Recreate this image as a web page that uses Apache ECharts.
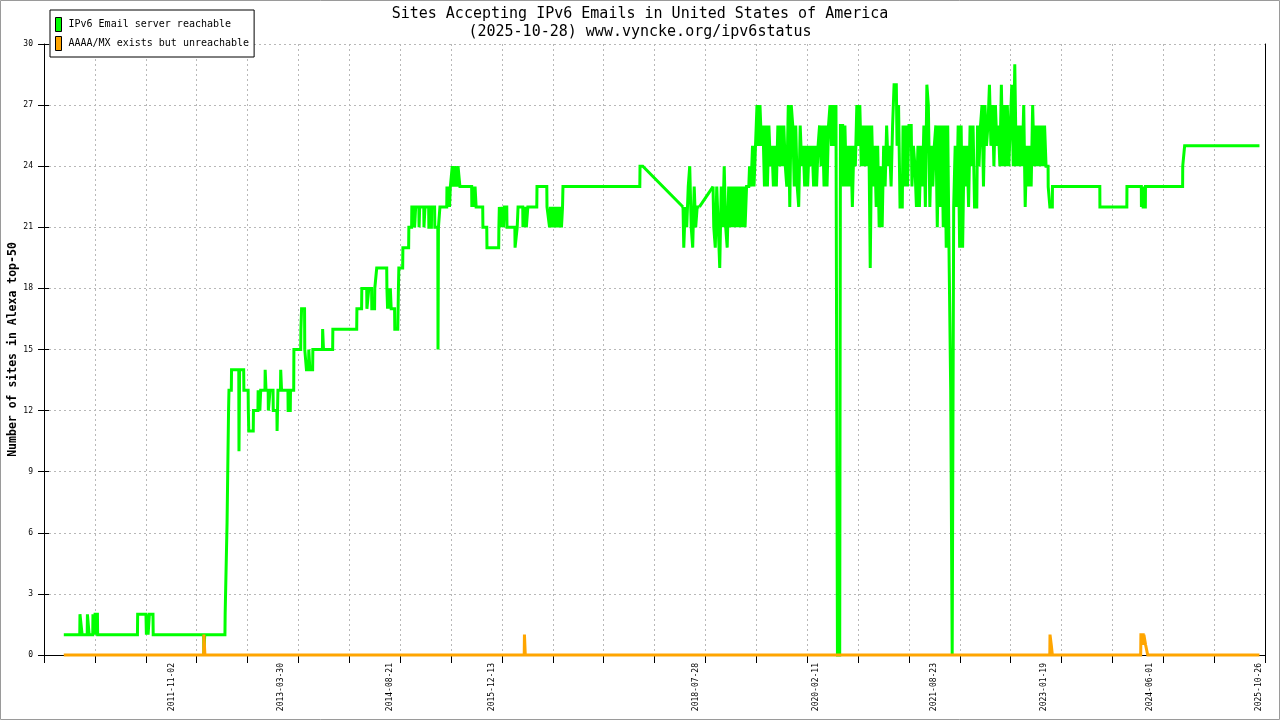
<!DOCTYPE html>
<html>
<head>
<meta charset="utf-8">
<script src="https://cdn.jsdelivr.net/npm/echarts@6/dist/echarts.min.js"></script>
<style>
html,body{margin:0;padding:0;background:#fff;}
#chart{width:1280px;height:720px;}
</style>
</head>
<body>
<div id="chart"></div>
<script>
// ---------------- DATA ----------------
const titleLines = ['Sites Accepting IPv6 Emails in United States of America', '(2025-10-28) www.vyncke.org/ipv6status'];
const seriesNames = ['IPv6 Email server reachable', 'AAAA/MX exists but unreachable'];
const yAxisName = 'Number of sites in Alexa top-50';
const xLabelDates = ['2011-11-02','2013-03-30','2014-08-21','2015-12-13','2018-07-28','2020-02-11','2021-08-23','2023-01-19','2024-06-01','2025-10-26'];
const xRange = ['2010-03-11', '2025-11-23'];
const xGridDivisions = 24;
const yMin = 0, yMax = 30, yStep = 3;

// reachable: early period, [date, value]
const reachableEarly = [
['2010-06-12',1],['2010-08-26',1],['2010-08-27',2],['2010-09-05',2],['2010-09-06',1],
['2010-09-30',1],['2010-10-01',2],['2010-10-08',2],['2010-10-09',1],
['2010-10-26',1],['2010-10-27',2],['2010-11-03',2],['2010-11-04',1],['2010-11-06',2],['2010-11-17',2],['2010-11-18',1],
['2011-05-24',1],['2011-05-25',2],['2011-07-03',2],['2011-07-05',1],['2011-07-09',2],['2011-07-13',1],['2011-07-17',1],['2011-07-19',2],['2011-08-05',2],['2011-08-06',1],
['2012-03-30',1],['2012-03-31',0],['2012-04-03',0],['2012-04-04',1],
['2012-07-08',1],['2012-07-09',2],['2012-07-17',2],['2012-07-18',6.5],['2012-07-24',6.5],['2012-07-25',12],['2012-07-27',13],['2012-08-07',13],['2012-08-08',14],
['2012-09-11',14],['2012-09-12',10],['2012-09-15',14],['2012-10-04',14],['2012-10-05',13],['2012-10-25',13],['2012-10-26',12],['2012-10-28',11],['2012-11-18',11],['2012-11-19',12],['2012-12-10',12],['2012-12-11',13],
['2012-12-18',13],['2012-12-19',12],['2012-12-23',13],['2013-01-12',13],['2013-01-13',14],['2013-01-16',14],['2013-01-17',13],['2013-01-27',13],['2013-01-28',12],['2013-02-04',12],['2013-02-05',13],['2013-02-19',13],['2013-02-20',12],['2013-03-09',12],['2013-03-10',11],['2013-03-13',11],['2013-03-14',13],['2013-03-26',13],['2013-03-27',14],['2013-03-30',14],['2013-03-31',13],['2013-04-30',13],['2013-05-01',12],['2013-05-11',12],['2013-05-12',13],['2013-05-27',13],['2013-05-28',15],
['2013-06-29',15],['2013-06-30',16],['2013-07-03',17],['2013-07-17',17],['2013-07-18',15],['2013-07-25',15],['2013-07-26',14],['2013-08-05',14],['2013-08-06',15],['2013-08-10',15],['2013-08-11',14],['2013-08-24',14],['2013-08-25',15],['2013-10-09',15],['2013-10-10',16],['2013-10-13',16],['2013-10-14',15],['2013-11-26',15],['2013-11-27',16],
['2014-03-19',16],['2014-03-20',17],['2014-04-11',17],['2014-04-12',18],['2014-05-05',18],['2014-05-06',17],['2014-05-14',17],['2014-05-15',18],['2014-05-28',18],['2014-05-29',17],['2014-06-11',17],['2014-06-12',18],['2014-06-20',18],['2014-06-21',19],['2014-08-07',19],['2014-08-08',18],['2014-08-11',17],['2014-08-15',18],['2014-08-19',17],['2014-08-24',18],['2014-08-28',17],['2014-09-13',17],['2014-09-14',16],['2014-09-28',16],['2014-10-01',18],['2014-10-03',19],['2014-10-21',19],['2014-10-22',20],['2014-11-18',20],['2014-11-19',21],['2014-12-02',21],['2014-12-03',22],
['2014-12-15',22],['2014-12-16',21],['2014-12-20',21],['2014-12-21',22],['2015-01-05',22],['2015-01-06',21],['2015-01-09',22],['2015-01-28',22],['2015-01-29',21],['2015-02-03',22],['2015-02-20',22],['2015-02-21',21],['2015-03-05',21],['2015-03-06',22],['2015-03-20',22],['2015-03-21',21],['2015-04-04',21],['2015-04-05',15],['2015-04-07',21],['2015-04-13',21],['2015-04-14',22],
['2015-05-16',22],['2015-05-17',23],['2015-05-21',22],['2015-05-25',23],['2015-05-29',22],['2015-06-02',23],['2015-06-10',23],['2015-06-11',24],['2015-06-16',23],['2015-06-20',24],['2015-06-25',23],['2015-06-29',24],['2015-07-04',23],['2015-07-08',24],['2015-07-16',24],['2015-07-17',23],['2015-09-10',23],['2015-09-11',22],['2015-09-16',23],['2015-09-21',22],['2015-09-26',23],['2015-10-01',22],['2015-11-01',22],['2015-11-02',21],['2015-11-20',21],['2015-11-21',20],
['2016-01-15',20],['2016-01-16',21],['2016-01-18',22],['2016-01-22',21],['2016-01-25',22],['2016-01-29',21],['2016-02-02',22],['2016-02-07',21],['2016-02-11',22],['2016-02-22',22],['2016-02-23',21],['2016-03-31',21],['2016-04-01',20],['2016-04-10',20],['2016-04-11',21],['2016-04-14',21],['2016-04-15',22],['2016-05-07',22],['2016-05-08',21],['2016-05-12',22],['2016-05-16',21],['2016-05-20',22],['2016-05-24',21],['2016-05-31',22],['2016-07-12',22],['2016-07-13',23],['2016-08-28',23],['2016-08-29',22],['2016-09-03',22],['2016-09-10',21],['2016-09-14',22],['2016-09-18',21],['2016-09-23',22],['2016-09-28',21],['2016-10-04',22],['2016-10-10',21],['2016-10-16',22],['2016-10-22',21],['2016-10-30',22],['2016-11-05',21],['2016-11-10',22],['2016-11-12',23],
['2017-11-08',23],['2017-11-09',24],['2017-11-22',24]
];

// reachable: weekly samples, mid-2018
const reachableWeeklyAStart = '2018-05-30';
const reachableWeeklyA = [22,20,22,21,23,24,21,20,23,21,22,22];

// reachable: weekly samples, late 2018 .. early 2023
const reachableWeeklyBStart = '2018-10-18';
const reachableWeeklyB = [
23,21,20,23,21,19,23,21,24,21, 20,23,21,23,21,23,21,23,21,23,
21,23,21,23,23,24,23,25,23,25, 27,25,27,25,26,23,26,23,26,24,
25,23,25,23,26,24,26,24,26,24, 23,27,22,27,26,23,26,23,22,26,
24,25,23,25,23,25,24,25,23,25, 23,25,26,24,26,23,26,23,26,27,
25,27,25,27,0,0,26,26,23,26, 23,25,23,25,22,25,24,27,25,27,
24,26,24,26,24,26,19,26,23,25, 22,25,21,24,21,25,23,26,24,25,
23,26,28,28,25,27,22,22,26,23, 26,23,26,26,23,25,24,22,25,22,
25,23,26,22,28,27,22,25,23,25, 26,21,26,22,26,21,26,20,26,19,
13,0,22,25,22,26,20,26,20,25, 23,25,22,26,24,26,22,22,26,24,
26,27,23,27,25,26,28,25,27,24, 27,25,26,24,28,24,27,24,27,24,
26,28,24,29,24,26,24,26,24,27, 22,25,23,25,23,27,24,26,24,26,
24,26,24,26
];

// reachable: late period, [date, value]
const reachableLate = [
['2023-02-02',24],['2023-02-08',24],['2023-02-09',23],['2023-02-16',23],['2023-02-17',22],['2023-02-28',22],['2023-03-01',23],
['2023-10-09',23],['2023-10-10',22],['2024-02-13',22],['2024-02-14',23],
['2024-04-21',23],['2024-04-22',22],['2024-04-26',22],['2024-04-27',23],['2024-04-29',23],['2024-04-30',22],['2024-05-10',22],['2024-05-11',23],
['2024-11-01',23],['2024-11-02',24],['2024-11-10',24],['2024-11-11',25],['2025-10-28',25]
];

// unreachable, [date, value]
const unreachable = [
['2010-06-12',0],['2012-03-30',0],['2012-03-31',1],['2012-04-04',1],['2012-04-05',0],
['2016-05-14',0],['2016-05-15',1],['2016-05-18',1],['2016-05-19',0],
['2023-02-16',0],['2023-02-17',1],['2023-02-22',1],['2023-02-23',0.5],['2023-02-27',0.5],['2023-02-28',0],
['2024-04-18',0],['2024-04-19',1],['2024-04-30',1],['2024-05-01',0.5],['2024-05-03',1],['2024-05-10',1],['2024-05-11',0.5],['2024-05-20',0.5],['2024-05-21',0],
['2025-10-28',0]
];

// ---------------- BUILD ----------------
function toTs(s, addDays) {
  const p = s.split('-').map(Number);
  return new Date(p[0], p[1] - 1, p[2] + (addDays || 0)).getTime();
}
function pairs(list) { return list.map(d => [toTs(d[0]), d[1]]); }
function weekly(start, vals) { return vals.map((v, i) => [toTs(start, 7 * i), v]); }
function pad(n) { return (n < 10 ? '0' : '') + n; }

const earlyPts = pairs(reachableEarly);
const weeklyAPts = weekly(reachableWeeklyAStart, reachableWeeklyA);
const weeklyBPts = weekly(reachableWeeklyBStart, reachableWeeklyB);
const latePts = pairs(reachableLate);
const orangeData = pairs(unreachable);

const GREEN = '#00ff00', ORANGE = '#ffa500';
const MONO = "'DejaVu Sans Mono', 'Liberation Mono', monospace";

function lineSeries(name, data, color, step, z) {
  return {
    name: name, type: 'line', xAxisIndex: 0, yAxisIndex: 0, data: data,
    step: step || false, symbol: 'none', showSymbol: false, clip: false,
    color: color, itemStyle: { color: color },
    lineStyle: { color: color, width: 3, join: 'miter', miterLimit: 2 },
    z: z
  };
}

const chart = echarts.init(document.getElementById('chart'), null, { renderer: 'canvas' });
chart.setOption({
  animation: false,
  backgroundColor: '#fff',
  textStyle: { fontFamily: MONO },
  title: {
    text: titleLines.join('\n'),
    left: 'center',
    top: 5,
    padding: 0,
    textStyle: { fontFamily: MONO, fontSize: 15, fontWeight: 'normal', color: '#000', lineHeight: 18 }
  },
  legend: {
    data: seriesNames,
    orient: 'vertical',
    left: 50,
    top: 10,
    icon: 'rect',
    itemWidth: 6,
    itemHeight: 14,
    itemGap: 4,
    padding: [7, 5, 6, 5],
    borderColor: '#000',
    borderWidth: 1,
    backgroundColor: '#fff',
    itemStyle: { borderColor: '#000', borderWidth: 1 },
    textStyle: { fontFamily: MONO, fontSize: 10, color: '#000', padding: [0, 0, 0, 2] },
    selectedMode: false
  },
  grid: { left: 44, right: 15, top: 44, bottom: 65, outerBoundsMode: 'none', containLabel: false },
  xAxis: [
    {
      type: 'value',
      min: toTs(xRange[0]),
      max: toTs(xRange[1]),
      position: 'bottom',
      axisLine: { show: false },
      axisTick: { show: false },
      splitLine: { show: false },
      axisLabel: {
        customValues: xLabelDates.map(d => toTs(d)),
        rotate: 90,
        margin: 8,
        fontFamily: MONO,
        fontSize: 8,
        color: '#000',
        formatter: function (v) {
          const d = new Date(v);
          return d.getFullYear() + '-' + pad(d.getMonth() + 1) + '-' + pad(d.getDate());
        }
      }
    },
    {
      type: 'value',
      min: 0,
      max: xGridDivisions,
      interval: 1,
      position: 'bottom',
      axisLine: { show: true, lineStyle: { color: '#000', width: 1 } },
      axisTick: { show: true, length: 8, lineStyle: { color: '#000' } },
      axisLabel: { show: false },
      splitLine: { show: true, lineStyle: { color: '#b8b8b8', width: 1, type: [2, 3] } }
    }
  ],
  yAxis: [
    {
      type: 'value',
      min: yMin, max: yMax, interval: yStep,
      position: 'left',
      name: yAxisName,
      nameLocation: 'middle',
      nameGap: 25,
      nameMoveOverlap: false,
      nameTextStyle: { fontFamily: MONO, fontSize: 11.5, fontWeight: 'bold', color: '#000' },
      axisLine: { show: true, lineStyle: { color: '#000', width: 1 } },
      axisTick: { show: true, length: 6, lineStyle: { color: '#000' } },
      axisLabel: { fontFamily: MONO, fontSize: 8, color: '#000', margin: 11 },
      splitLine: { show: true, lineStyle: { color: '#b8b8b8', width: 1, type: [2, 3] } }
    },
    {
      type: 'value',
      min: yMin, max: yMax, interval: yStep,
      position: 'left',
      axisLine: { show: false },
      axisTick: { show: true, inside: true, length: 5, lineStyle: { color: '#000' } },
      axisLabel: { show: false },
      splitLine: { show: false }
    },
    {
      type: 'value',
      min: yMin, max: yMax, interval: yStep,
      position: 'right',
      axisLine: { show: true, lineStyle: { color: '#000', width: 1 } },
      axisTick: { show: false },
      axisLabel: { show: false },
      splitLine: { show: false }
    }
  ],
  series: [
    // early period and the unsampled stretches that the original joins with straight lines
    lineSeries(seriesNames[0], earlyPts.concat([weeklyAPts[0]]), GREEN, false, 3),
    lineSeries(seriesNames[0], weeklyAPts, GREEN, 'middle', 3),
    lineSeries(seriesNames[0], [weeklyAPts[weeklyAPts.length - 1], weeklyBPts[0]], GREEN, false, 3),
    lineSeries(seriesNames[0], weeklyBPts.concat(latePts), GREEN, 'middle', 3),
    lineSeries(seriesNames[1], orangeData, ORANGE, false, 4)
  ],
  graphic: [
    {
      type: 'rect',
      shape: { x: 0.5, y: 0.5, width: 1279, height: 719 },
      style: { fill: 'none', stroke: '#9a9a9a', lineWidth: 1 },
      silent: true,
      z: 100
    }
  ]
});
</script>
</body>
</html>
